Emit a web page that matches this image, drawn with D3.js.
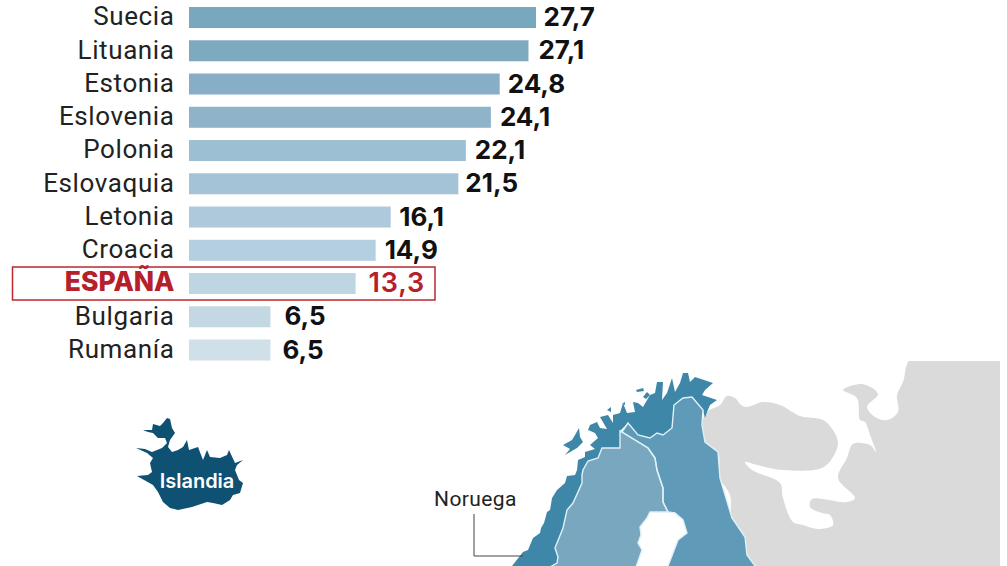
<!DOCTYPE html>
<html>
<head>
<meta charset="utf-8">
<script src="https://cdn.jsdelivr.net/npm/d3@7"></script>
<style>
  html, body { margin: 0; background: #fff; }
  svg { display: block; }
  .names text { font-family: Roboto, sans-serif; font-size: 26px; font-weight: 400; fill: #222; letter-spacing: .6px; }
  .names text.hl { font-family: Inter, sans-serif; font-weight: 800; font-size: 26.5px; fill: #b5202a; letter-spacing: 0; }
  .vals text { font-family: Inter, sans-serif; font-size: 26px; font-weight: 700; fill: #111; }
  .vals text.hl { font-weight: 600; font-size: 27px; fill: #b5202a; letter-spacing: .8px; }
</style>
</head>
<body>
<div id="chart"></div>
<script>
const countries = ["Suecia", "Lituania", "Estonia", "Eslovenia", "Polonia", "Eslovaquia", "Letonia", "Croacia", "ESPAÑA", "Bulgaria", "Rumanía"];
const values = [27.7, 27.1, 24.8, 24.1, 22.1, 21.5, 16.1, 14.9, 13.3, 6.5, 6.5];
const valueLabels = ["27,7", "27,1", "24,8", "24,1", "22,1", "21,5", "16,1", "14,9", "13,3", "6,5", "6,5"];
const highlight = "ESPAÑA";

const barColors = ["#77a8bd", "#7eaac0", "#88adc6", "#8fb4ca", "#9dbfd3", "#a5c3d7", "#aec9dc", "#b4cfe0", "#bdd6e2", "#c4d8e4", "#d0e0e8"];
const labelGaps = [7.5, 10, 8, 9, 9, 7, 8.5, 9, 13, 14, 12];

// map outlines
const iceland = [[136,448],[145,449],[152,452],[162,448],[167,443],[165,438],[158,438],[153,433],[148,432],[143,430],[152,430],[153,424],[160,426],[163,423],[167,418],[170,419],[172,428],[175,433],[170,440],[168,447],[172,452],[178,450],[183,447],[187,440],[189,450],[195,448],[198,447],[203,460],[207,450],[210,457],[220,458],[227,455],[229,450],[235,463],[243,460],[237,465],[235,470],[239,480],[243,483],[240,493],[233,495],[230,500],[222,505],[213,503],[207,502],[192,507],[178,510],[170,508],[163,502],[158,492],[153,485],[137,476],[148,475],[152,472],[150,463],[153,458],[147,453]];
const gray = [[912,357],[1004,357],[1004,570],[758,570],[747,555],[745,537],[732,518],[730,495],[720,478],[718,452],[705,442],[702,425],[707,412],[720,405],[727,396],[735,398],[741,405],[747,407],[763,402],[780,405],[800,416],[823,420],[833,430],[838,443],[833,457],[822,468],[783,470],[757,465],[745,462],[752,470],[780,483],[783,498],[793,522],[803,525],[818,529],[833,525],[830,515],[822,513],[810,507],[812,499],[847,502],[855,498],[838,478],[847,458],[853,444],[870,445],[876,452],[870,435],[865,422],[860,420],[857,398],[843,390],[862,384],[878,394],[867,407],[875,417],[887,420],[898,412],[897,395],[903,382]];
const sweden = [[622,432],[635,440],[648,448],[655,458],[657,470],[663,488],[663,502],[668,512],[650,512],[647,518],[640,527],[641,535],[638,543],[642,550],[635,570],[545,570],[557,563],[558,557],[555,548],[563,528],[567,510],[573,503],[582,483],[582,475],[583,470],[588,461],[598,458],[602,448],[620,448],[620,431]];
const finland = [[628,423],[638,435],[650,438],[657,433],[663,435],[672,428],[674,405],[683,398],[692,397],[703,410],[702,425],[705,442],[718,452],[720,478],[732,518],[745,537],[747,555],[758,570],[665,570],[668,566],[678,540],[687,533],[683,520],[675,513],[668,512],[663,502],[663,488],[657,470],[655,458],[648,448],[635,440],[622,432]];
const norway = [[505,572],[512,566],[523,552],[528,550],[533,538],[540,533],[541,528],[544,523],[547,512],[550,510],[552,498],[557,490],[565,483],[567,476],[575,475],[577,470],[578,460],[585,457],[585,452],[595,449],[590,445],[598,438],[595,433],[588,430],[590,425],[597,422],[600,428],[607,429],[600,417],[608,415],[613,423],[613,415],[620,413],[623,403],[627,413],[635,412],[633,402],[638,403],[643,407],[650,395],[655,393],[657,382],[663,382],[662,400],[667,393],[672,378],[675,392],[680,383],[683,373],[688,373],[690,382],[695,377],[713,383],[705,390],[702,395],[717,400],[710,405],[707,412],[705,418],[703,410],[692,397],[683,398],[674,405],[672,428],[663,435],[657,433],[650,438],[638,435],[628,423],[620,431],[620,448],[602,448],[598,458],[588,461],[583,470],[582,475],[582,483],[573,503],[567,510],[563,528],[555,548],[558,557],[557,563],[545,570]];
const islands = [
    [[563,445],[572,440],[575,435],[579,428],[580,437],[583,442],[577,448],[565,455],[570,449]],
    [[636,390],[643,388],[644,391],[637,392]],
    [[643,397],[647,392],[650,395],[646,399]],
    [[607,410],[611,407],[611,412]],
    [[622,404],[625,402],[625,405]]
];
const leader = [[474,514],[474,556],[523,556]];

const W = 1007, H = 566;
const svg = d3.select("#chart").append("svg").attr("width", W).attr("height", H);

const x = d3.scaleLinear().domain([0, 27.7]).range([189, 536]);
const y = d3.scaleBand().domain(countries).range([0.9, 366.65]).paddingInner(0.368).paddingOuter(0.184);
const color = d3.scaleOrdinal().domain(countries).range(barColors);

// Map
const outline = d3.line().curve(d3.curveLinearClosed);
const smooth = d3.line().curve(d3.curveCatmullRomClosed.alpha(0.5));

svg.append("defs").append("clipPath").attr("id", "clip")
    .append("rect").attr("x", 0).attr("y", 361).attr("width", 1000).attr("height", 205);

const map = svg.append("g");
const land = map.append("g").attr("clip-path", "url(#clip)");
land.append("path").attr("d", smooth(gray)).attr("fill", "#dadada");
land.append("path").attr("d", outline(sweden)).attr("fill", "#79a7c0");
land.append("path").attr("d", outline(finland)).attr("fill", "#5f9ab8");
land.append("path").attr("d", outline(norway)).attr("fill", "#3f87a8");
// borders on top
land.append("path").attr("d", outline(sweden)).attr("fill", "none").attr("stroke", "#dff0f6").attr("stroke-width", 1.4);
land.append("path").attr("d", outline(finland)).attr("fill", "none").attr("stroke", "#dff0f6").attr("stroke-width", 1.4);
land.selectAll(".island").data(islands).join("path").attr("class", "island")
    .attr("d", d => outline(d)).attr("fill", "#3f87a8");

map.append("path").attr("d", outline(iceland)).attr("fill", "#0e5173");
map.append("text").attr("x", 197).attr("y", 487.5).attr("text-anchor", "middle")
    .style("font-family", "Inter, sans-serif").style("font-size", "20px").style("font-weight", 600).attr("fill", "#fff")
    .text("Islandia");
map.append("text").attr("x", 434).attr("y", 506)
    .style("font-family", "Roboto, sans-serif").style("font-size", "21px").style("font-weight", 400).style("letter-spacing", ".4px").attr("fill", "#222")
    .text("Noruega");
map.append("path").attr("d", d3.line()(leader)).attr("fill", "none").attr("stroke", "#444").attr("stroke-width", 1);

// Highlight box
svg.append("rect")
    .attr("x", 12.5).attr("y", y(highlight) - 6).attr("width", 422.5).attr("height", 33)
    .attr("fill", "none").attr("stroke", "#c0272d").attr("stroke-width", 1.5);

// Bars
svg.append("g").selectAll("rect").data(countries).join("rect")
    .attr("x", x(0))
    .attr("y", d => y(d))
    .attr("width", (d, i) => x(values[i]) - x(0))
    .attr("height", y.bandwidth())
    .attr("fill", d => color(d));

// Country names
const axis = svg.append("g").attr("class", "names")
    .attr("transform", "translate(174.5,0)")
    .call(d3.axisLeft(y).tickSize(0).tickPadding(0));
axis.select(".domain").remove();
axis.selectAll("text").attr("dy", ".3em").classed("hl", d => d === highlight);

// Values
svg.append("g").attr("class", "vals").selectAll("text").data(countries).join("text")
    .classed("hl", d => d === highlight)
    .attr("x", (d, i) => x(values[i]) + labelGaps[i])
    .attr("y", d => y(d) + y.bandwidth() / 2)
    .attr("dy", ".33em")
    .text((d, i) => valueLabels[i]);
</script>
</body>
</html>
